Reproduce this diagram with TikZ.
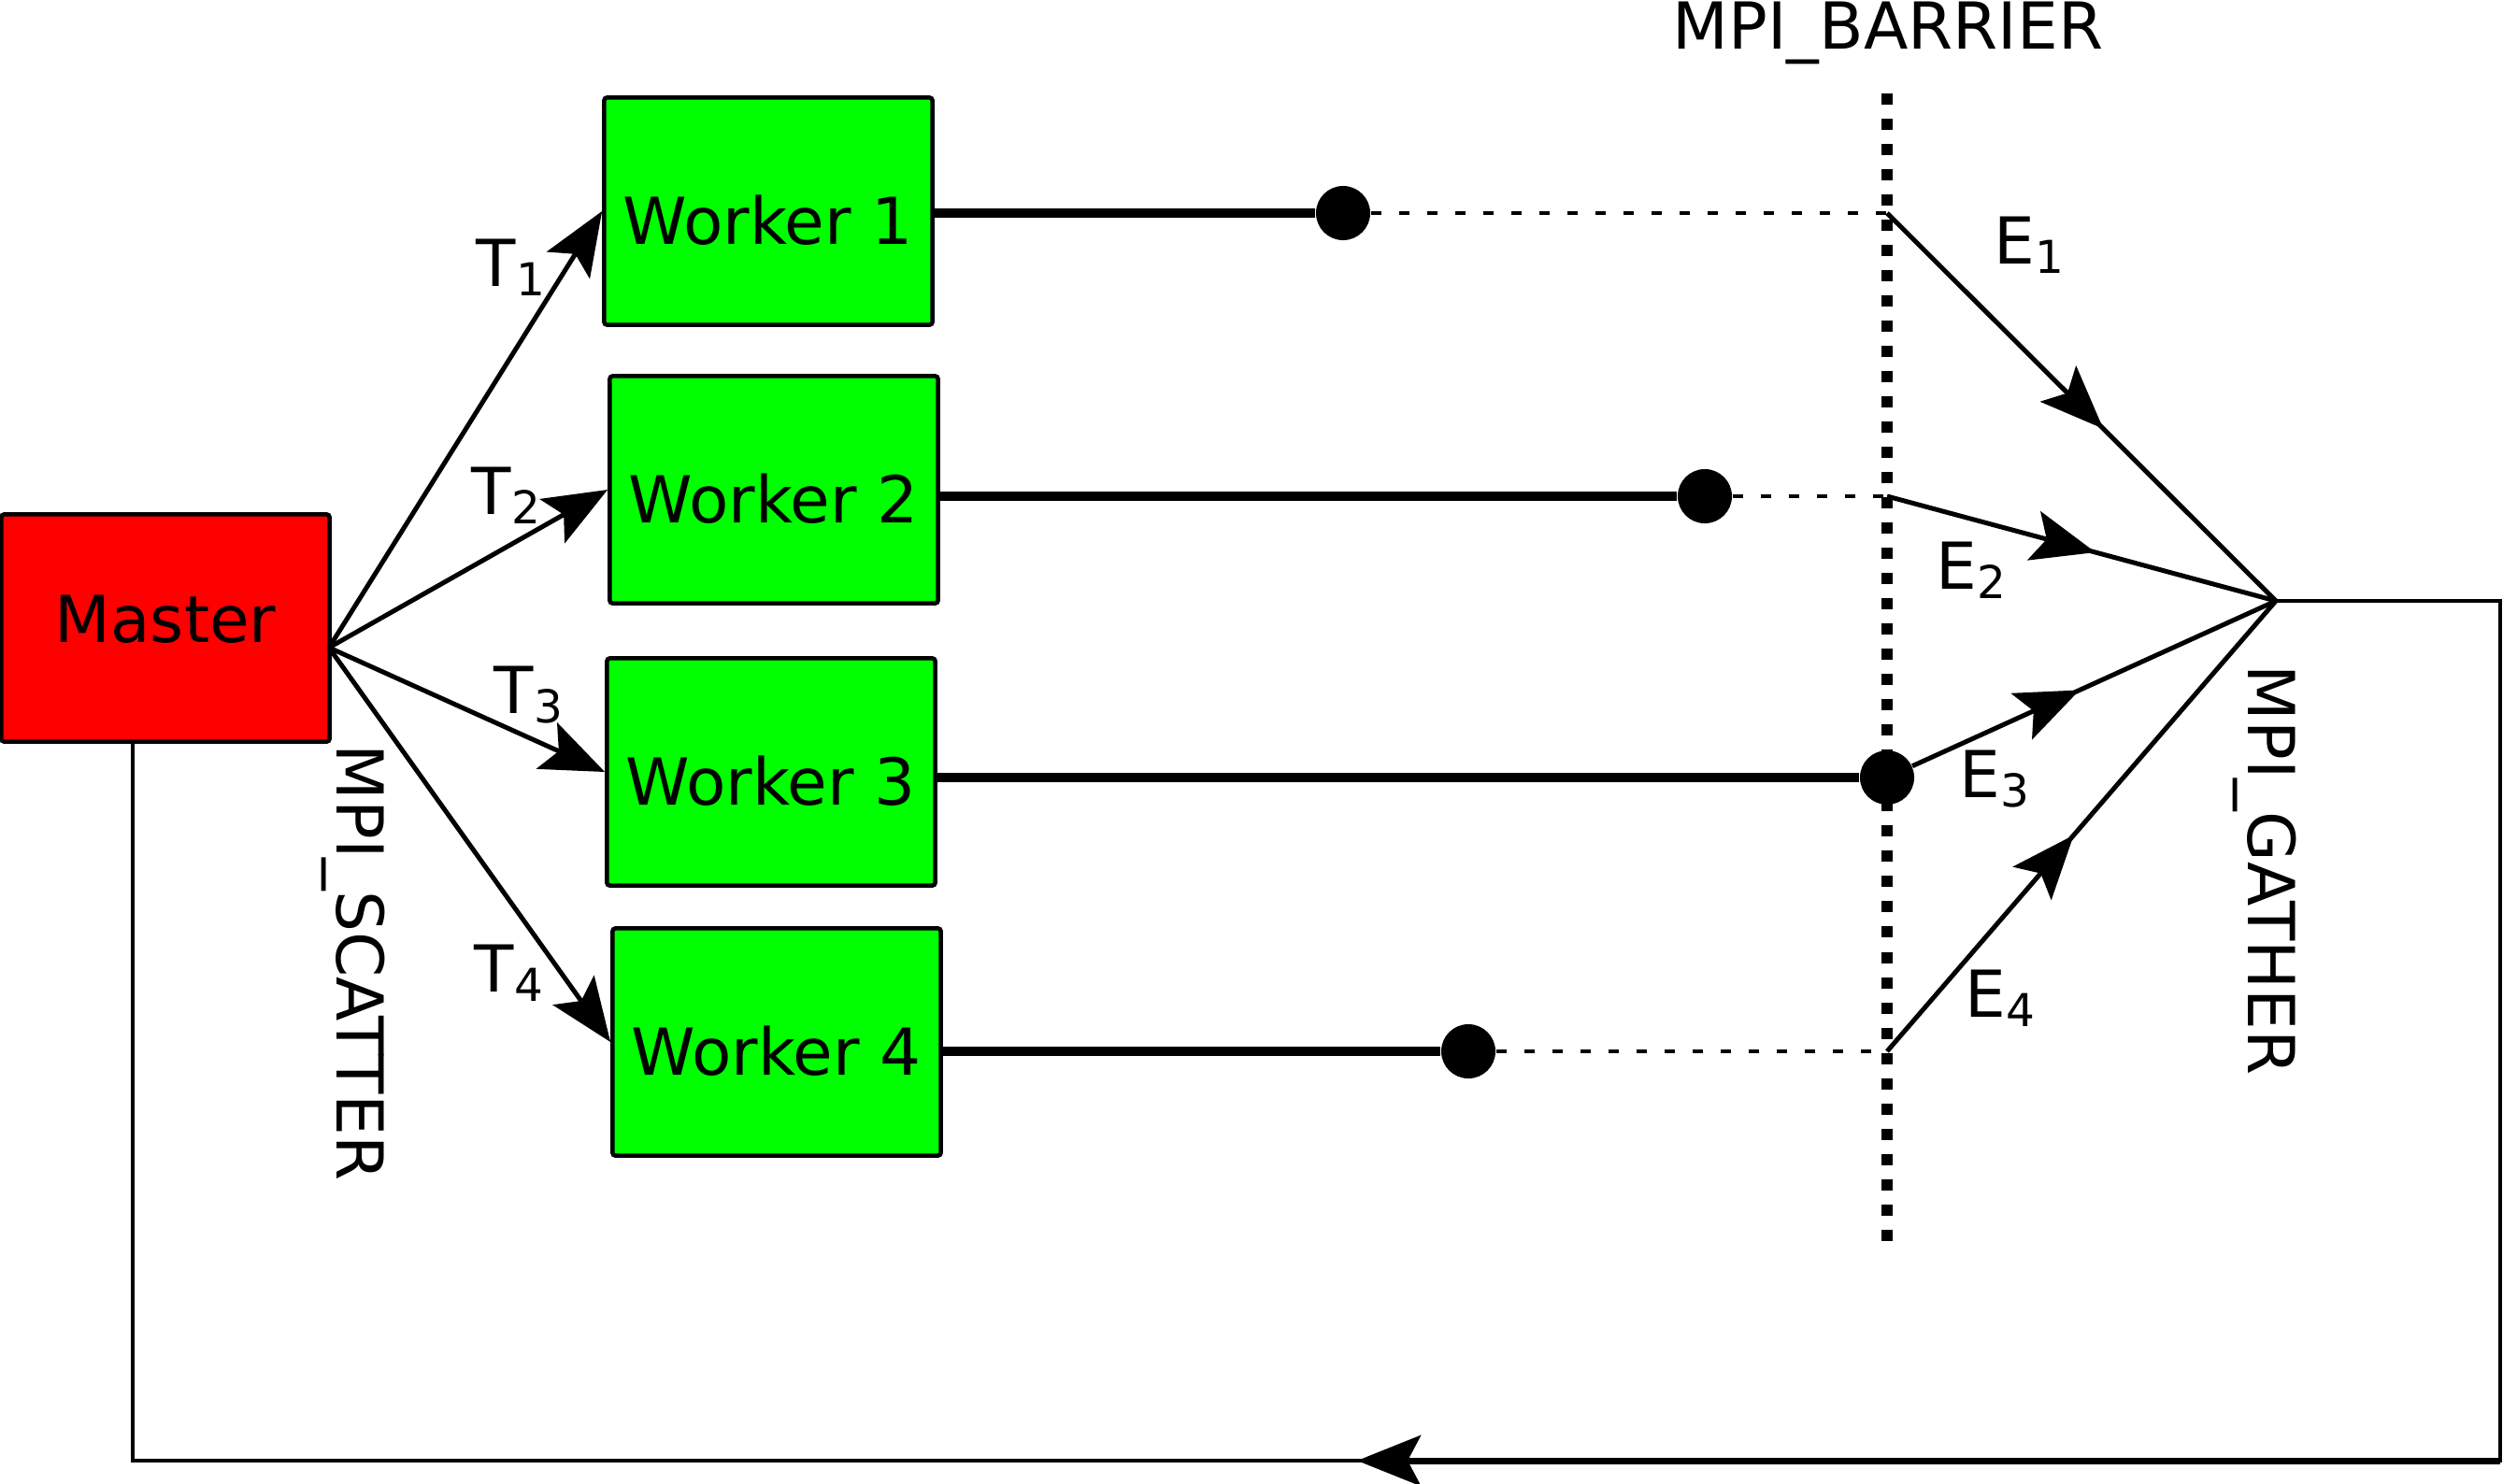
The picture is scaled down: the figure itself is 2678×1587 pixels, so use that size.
\documentclass[tikz,border=0pt]{standalone}
\usepackage{fontspec}
\setmainfont{DejaVu Sans}
\usetikzlibrary{arrows.meta}
\usetikzlibrary{decorations.markings}

\tikzset{
  >={Stealth[length=0.68cm,width=0.54cm,inset=0.14cm]},
  box/.style={draw, line width=0.045cm, rounded corners=0.03cm, minimum width=3.51cm, minimum height=2.43cm, inner sep=0pt},
  blob/.style={circle, fill=black, inner sep=0pt, minimum size=0.58cm},
  lbl/.style={inner sep=0pt, anchor=base west},
  fine/.style={line width=0.05cm},
  heavy/.style={line width=0.1cm},
  dotline/.style={line width=0.04cm, dash pattern=on 0.11cm off 0.19cm},
  barrier/.style={line width=0.12cm, dash pattern=on 0.12cm off 0.15cm},
  midarrow/.style={postaction={decorate}, decoration={markings, mark=at position #1 with {\arrow{>}}}}
}

\begin{document}
\begin{tikzpicture}[x=0.01cm, y=-0.01cm, font=\fontsize{19.7}{24}\selectfont]
  \useasboundingbox (0,0) rectangle (2678,1587);

  % boxes
  \node[box, fill=red, text height=0.5cm, text depth=0.2cm] (master) at (177,672) {Master};
  \node[box, fill=green, text height=0.71cm, text depth=0cm] (w1) at (822,226) {Worker 1};
  \node[box, fill=green, text height=0.71cm, text depth=0cm] (w2) at (828,524) {Worker 2};
  \node[box, fill=green, text height=0.71cm, text depth=0cm] (w3) at (825,826) {Worker 3};
  \node[box, fill=green, text height=0.71cm, text depth=0cm] (w4) at (831,1115) {Worker 4};

  \coordinate (fan) at (352,693);
  \coordinate (g) at (2435,643);

  % scatter
  \draw[fine,->] (fan) -- (w1.west);
  \draw[fine,->] (fan) -- (w2.west);
  \draw[fine,->] (fan) -- (w3.west);
  \draw[fine,->] (fan) -- (w4.west);
  \node[lbl] (t1) at (509,306) {T\textsubscript{1}};
  \node[lbl] (t2) at (504,550) {T\textsubscript{2}};
  \node[lbl] (t3) at (528,763) {T\textsubscript{3}};
  \node[lbl] (t4) at (507,1061) {T\textsubscript{4}};
  \node[anchor=base, rotate=-90, inner sep=0pt] (scatter) at (360,1030) {MPI\_SCATTER};

  % barrier
  \coordinate (btop) at (2019,100);
  \coordinate (bbot) at (2019,1332);
  \draw[barrier] (btop) -- (bbot);
  \node[anchor=base, inner sep=0pt] (barriertext) at (2020,52) {MPI\_BARRIER};
  \coordinate (b1) at (2019,228);
  \coordinate (b2) at (2019,531);
  \coordinate (b4) at (2019,1125);

  % work until the barrier
  \node[blob] (d1) at (1437,228) {};
  \node[blob] (d2) at (1824,531) {};
  \node[blob] (d3) at (2019,832) {};
  \node[blob] (d4) at (1571,1125) {};
  \draw[heavy] (w1.east |- d1) -- (d1);
  \draw[heavy] (w2.east |- d2) -- (d2);
  \draw[heavy] (w3.east |- d3) -- (d3);
  \draw[heavy] (w4.east |- d4) -- (d4);
  \draw[dotline] (d1) -- (b1);
  \draw[dotline] (d2) -- (b2);
  \draw[dotline] (d4) -- (b4);

  % gather
  \draw[fine, midarrow=0.556] (b1) -- (g);
  \draw[fine, midarrow=0.536] (b2) -- (g);
  \draw[fine, midarrow=0.46] (d3) -- (g);
  \draw[fine, midarrow=0.48] (b4) -- (g);
  \node[lbl] (e1) at (2133,282) {E\textsubscript{1}};
  \node[lbl] (e2) at (2071,630) {E\textsubscript{2}};
  \node[lbl] (e3) at (2096,853) {E\textsubscript{3}};
  \node[lbl] (e4) at (2102,1088) {E\textsubscript{4}};
  \node[anchor=base, rotate=-90, inner sep=0pt] (gather) at (2405,931) {MPI\_GATHER};

  % back to the master
  \coordinate (rc1) at (2675,643);
  \coordinate (rc2) at (2675,1563);
  \coordinate (tip) at (1452,1563);
  \coordinate (mb) at (142,1563);
  \draw[line width=0.045cm] (g) -- (rc1) -- (rc2) -- (mb) -- (mb |- master.south);
  \draw[line width=0.07cm,->] (rc2) -- (tip);
\end{tikzpicture}
\end{document}
